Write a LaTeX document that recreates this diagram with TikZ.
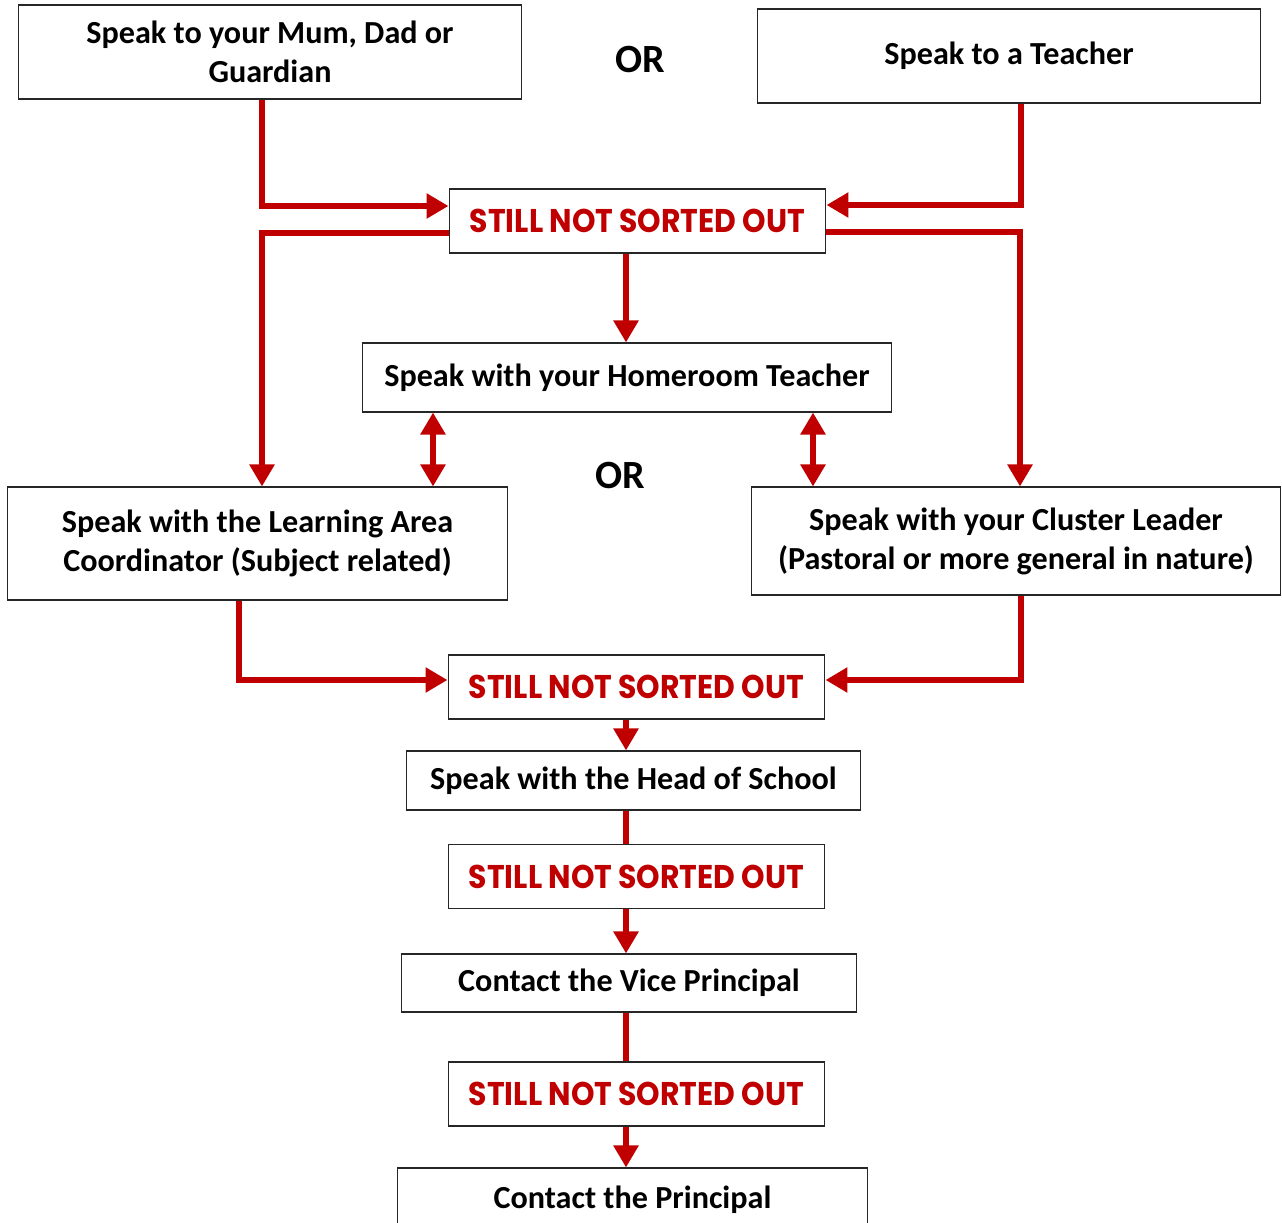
\documentclass[tikz,border=0pt]{standalone}
\usepackage{fontspec}
\setmainfont{Carlito}
\newfontfamily\sortfont{Poppins}[FakeStretch=0.91]
\usepackage{xcolor}
\usepackage{tikz}
\usetikzlibrary{
  arrows.meta,
  positioning
}
\definecolor{arrowred}{RGB}{192,0,0}

\begin{document}
\begin{tikzpicture}[
  x=0.02cm, y=-0.02cm,
  box/.style={draw=black!85, line width=0.6pt, fill=white, align=center,
              inner sep=0pt, font=\bfseries\fontsize{18.3}{22.2}\selectfont},
  sorted/.style={box, minimum width=7.54cm, minimum height=1.28cm, text=arrowred,
                 font=\sortfont\bfseries\fontsize{18.7}{22}\selectfont},
  ortext/.style={font=\bfseries\fontsize{22.8}{24}\selectfont},
  flow/.style={draw=arrowred, line width=3.4pt},
  arr/.style={flow, -{Triangle[length=0.44cm, width=0.48cm]}},
  dbl/.style={flow, {Triangle[length=0.44cm, width=0.48cm]}-{Triangle[length=0.44cm, width=0.48cm]}}
]
\useasboundingbox (0,0) rectangle (1282,1223);

% ── Row 1: Who to speak to first ──
\node[box, minimum width=10.08cm, minimum height=1.88cm] at (270,52) (mum)
  {Speak to your Mum, Dad or\\Guardian};
\node[box, minimum width=10.08cm, minimum height=1.88cm] at (1009,56) (teacher)
  {Speak to a Teacher};
\node[ortext] at (640,60) (or1) {OR};

% ── Row 2: First check ──
\node[sorted] at (637.5,221) (sno1) {STILL NOT SORTED OUT};

% ── Row 3: Homeroom ──
\node[box, minimum width=10.6cm, minimum height=1.38cm] at (627,377.5) (homeroom)
  {Speak with your Homeroom Teacher};
\node[ortext] at (620,476) (or2) {OR};

% ── Row 4: Coordinator / Cluster Leader ──
\node[box, minimum width=10.02cm, minimum height=2.26cm] at (257.5,543.5) (lac)
  {Speak with the Learning Area\\Coordinator (Subject related)};
\node[box, minimum width=10.6cm, minimum height=2.16cm] at (1016,541) (cluster)
  {Speak with your Cluster Leader\\(Pastoral or more general in nature)};

% ── Row 5 onwards: Escalation ──
\node[sorted] at (636.5,687) (sno2) {STILL NOT SORTED OUT};
\node[box, minimum width=9.1cm, minimum height=1.18cm] at (633.5,780.5) (head)
  {Speak with the Head of School};
\node[sorted] at (636.5,876.5) (sno3) {STILL NOT SORTED OUT};
\node[box, minimum width=9.12cm, minimum height=1.16cm] at (629,983) (vice)
  {Contact the Vice Principal};
\node[sorted] at (636.5,1094) (sno4) {STILL NOT SORTED OUT};
\node[box, minimum width=9.42cm, minimum height=1.28cm] at (632.5,1200) (principal)
  {Contact the Principal};

% ── Connector columns ──
\coordinate (spine) at (626,0);
\coordinate (inl) at (262,206);
\coordinate (inr) at (1021,205);
\coordinate (outl) at (262,233);
\coordinate (outr) at (1020,232);
\coordinate (dl) at (433,0);
\coordinate (dr) at (813,0);
\coordinate (lowl) at (239,680);
\coordinate (lowr) at (1021,680);

% ── Connectors ──
\draw[arr] (mum.south -| inl) |- (sno1.west |- inl);
\draw[arr] (teacher.south -| inr) |- (sno1.east |- inr);
\draw[arr] (sno1.west |- outl) -| (lac.north -| outl);
\draw[arr] (sno1.east |- outr) -| (cluster.north -| outr);
\draw[arr] (sno1.south -| spine) -- (homeroom.north -| spine);
\draw[dbl] (homeroom.south -| dl) -- (lac.north -| dl);
\draw[dbl] (homeroom.south -| dr) -- (cluster.north -| dr);
\draw[arr] (lac.south -| lowl) |- (sno2.west |- lowl);
\draw[arr] (cluster.south -| lowr) |- (sno2.east |- lowr);
\draw[arr] (sno2.south -| spine) -- (head.north -| spine);
\draw[flow] (head.south -| spine) -- (sno3.north -| spine);
\draw[arr] (sno3.south -| spine) -- (vice.north -| spine);
\draw[flow] (vice.south -| spine) -- (sno4.north -| spine);
\draw[arr] (sno4.south -| spine) -- (principal.north -| spine);

\end{tikzpicture}
\end{document}
